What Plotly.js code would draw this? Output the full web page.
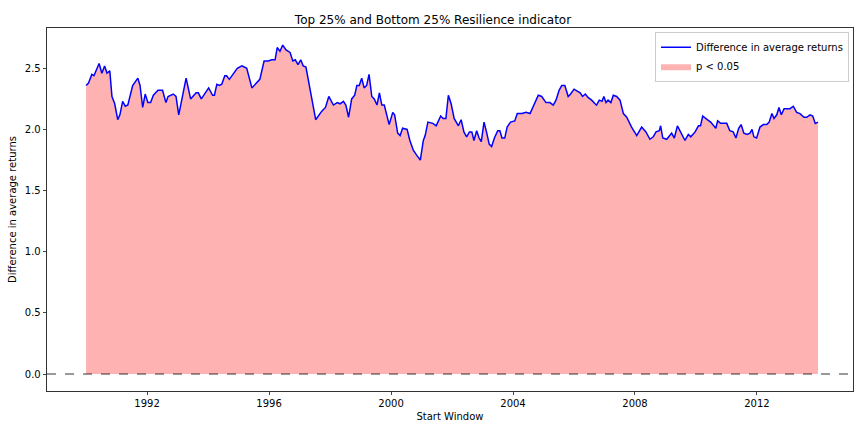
<!DOCTYPE html>
<html>
<head>
<meta charset="utf-8">
<script src="https://cdn.plot.ly/plotly-3.0.1.min.js"></script>
<style>html,body{margin:0;padding:0;background:#fff}#chart{width:866px;height:433px}</style>
</head>
<body>
<div id="chart"></div>
<script>
// start window as decimal year
const years = [1990.0,1990.08,1990.19,1990.26,1990.43,1990.52,1990.61,1990.69,1990.78,1990.85,1990.94,1991.04,1991.11,1991.20,1991.29,1991.37,1991.53,1991.70,1991.77,1991.86,1991.94,1992.03,1992.12,1992.21,1992.36,1992.51,1992.62,1992.69,1992.86,1992.95,1993.04,1993.28,1993.43,1993.61,1993.68,1993.78,1994.02,1994.15,1994.21,1994.29,1994.37,1994.45,1994.55,1994.61,1994.70,1994.96,1995.11,1995.27,1995.44,1995.70,1995.84,1995.98,1996.09,1996.20,1996.27,1996.36,1996.45,1996.56,1996.69,1996.78,1996.86,1996.95,1997.04,1997.12,1997.21,1997.34,1997.53,1997.73,1997.85,1997.96,1998.11,1998.24,1998.33,1998.44,1998.52,1998.61,1998.71,1998.81,1998.88,1998.96,1999.04,1999.12,1999.20,1999.28,1999.37,1999.45,1999.54,1999.62,1999.70,1999.78,1999.94,2000.06,2000.12,2000.22,2000.30,2000.38,2000.53,2000.62,2000.73,2000.84,2000.96,2001.06,2001.12,2001.21,2001.37,2001.48,2001.63,2001.71,2001.80,2001.88,2001.97,2002.07,2002.21,2002.30,2002.39,2002.48,2002.57,2002.65,2002.72,2002.81,2002.89,2002.96,2003.05,2003.14,2003.22,2003.30,2003.39,2003.50,2003.57,2003.64,2003.73,2003.81,2003.92,2004.06,2004.14,2004.29,2004.43,2004.56,2004.69,2004.83,2004.94,2005.08,2005.21,2005.32,2005.41,2005.51,2005.60,2005.70,2005.81,2005.89,2006.00,2006.11,2006.20,2006.28,2006.37,2006.47,2006.58,2006.69,2006.74,2006.83,2006.92,2006.98,2007.05,2007.12,2007.21,2007.29,2007.40,2007.51,2007.62,2007.73,2007.89,2008.06,2008.22,2008.36,2008.49,2008.60,2008.69,2008.80,2008.84,2008.91,2009.04,2009.20,2009.29,2009.39,2009.51,2009.64,2009.75,2009.83,2009.97,2010.08,2010.15,2010.22,2010.37,2010.48,2010.65,2010.71,2010.81,2011.01,2011.11,2011.22,2011.31,2011.40,2011.48,2011.57,2011.68,2011.77,2011.84,2011.90,2011.99,2012.10,2012.21,2012.32,2012.40,2012.49,2012.56,2012.65,2012.72,2012.80,2012.89,2012.99,2013.08,2013.19,2013.30,2013.41,2013.54,2013.63,2013.74,2013.83,2013.91,2014.0];
const diffReturns = [2.36,2.38,2.45,2.44,2.54,2.46,2.52,2.46,2.48,2.27,2.21,2.08,2.12,2.23,2.19,2.20,2.36,2.42,2.36,2.18,2.29,2.22,2.22,2.28,2.32,2.32,2.22,2.27,2.29,2.27,2.12,2.42,2.25,2.30,2.30,2.25,2.34,2.28,2.28,2.37,2.36,2.37,2.44,2.44,2.41,2.50,2.52,2.50,2.34,2.41,2.56,2.56,2.57,2.57,2.67,2.64,2.69,2.65,2.63,2.56,2.57,2.53,2.57,2.52,2.51,2.33,2.08,2.15,2.18,2.27,2.20,2.22,2.21,2.23,2.20,2.10,2.25,2.28,2.36,2.36,2.42,2.34,2.36,2.45,2.27,2.25,2.20,2.30,2.20,2.20,2.04,2.14,2.12,1.97,1.95,2.01,2.00,1.91,1.83,1.79,1.75,1.91,1.95,2.06,2.05,2.03,2.11,2.09,2.09,2.28,2.21,2.09,2.03,2.08,1.98,1.94,1.98,1.98,1.91,1.99,1.93,1.90,2.06,1.97,1.88,1.86,1.93,1.99,1.99,1.93,1.93,2.02,2.06,2.07,2.13,2.13,2.14,2.13,2.21,2.28,2.27,2.22,2.22,2.20,2.24,2.32,2.36,2.36,2.27,2.29,2.33,2.31,2.30,2.27,2.29,2.26,2.24,2.21,2.20,2.24,2.23,2.27,2.22,2.24,2.22,2.28,2.27,2.24,2.13,2.10,2.02,1.95,2.02,1.98,1.92,1.94,1.98,1.99,2.03,1.93,1.92,1.97,1.93,2.03,1.97,1.91,1.96,1.94,1.98,2.03,2.03,2.11,2.08,2.06,2.01,2.07,2.05,2.05,1.99,1.98,1.93,2.01,2.04,1.97,1.96,1.97,2.00,1.94,1.93,2.02,2.04,2.04,2.06,2.13,2.09,2.12,2.18,2.12,2.17,2.17,2.17,2.19,2.14,2.13,2.10,2.10,2.12,2.11,2.05,2.06];
const yTicks = [0, 0.5, 1.0, 1.5, 2.0, 2.5];
const yTickText = ["0.0", "0.5", "1.0", "1.5", "2.0", "2.5"];
const xTickYears = [1992, 1996, 2000, 2004, 2008, 2012];

function toDate(y) {
  const yr = Math.floor(y);
  const start = Date.UTC(yr, 0, 1), end = Date.UTC(yr + 1, 0, 1);
  return new Date(start + (y - yr) * (end - start)).toISOString().slice(0, 10);
}
const dates = years.map(toDate);
const rangeX = [toDate(1988.72), toDate(2015.15)];

const traces = [
  {
    x: dates, y: diffReturns, type: "scatter", mode: "lines",
    fill: "tozeroy", fillcolor: "rgba(255,0,0,0.3)", line: { width: 0 },
    name: "p < 0.05", legendrank: 2, hoverinfo: "skip",
  },
  {
    x: dates, y: diffReturns, type: "scatter", mode: "lines",
    line: { color: "#0000ff", width: 1.5 }, name: "Difference in average returns", legendrank: 1,
  },
  {
    x: rangeX, y: [0, 0], type: "scatter", mode: "lines",
    line: { color: "#000", width: 0.8, dash: "dash" }, showlegend: false, hoverinfo: "skip",
  },
];

const layout = {
  width: 866, height: 433,
  margin: { l: 47, r: 13, t: 28, b: 42 },
  paper_bgcolor: "#fff", plot_bgcolor: "#fff",
  font: { family: "DejaVu Sans", size: 10, color: "#000" },
  title: { text: "Top 25% and Bottom 25% Resilience indicator", font: { size: 12 }, x: 0.5, y: 0.965, xanchor: "center" },
  xaxis: {
    type: "date", range: rangeX,
    tickvals: xTickYears.map((y) => toDate(y)), ticktext: xTickYears.map(String),
    ticks: "outside", ticklen: 3.5, showgrid: false, zeroline: false,
    showline: true, mirror: true, linecolor: "#000", linewidth: 0.8,
    title: { text: "Start Window", font: { size: 10 }, standoff: 4 },
  },
  yaxis: {
    range: [-0.139, 2.83], tickvals: yTicks, ticktext: yTickText,
    ticks: "outside", ticklen: 3.5, showgrid: false, zeroline: false,
    showline: true, mirror: true, linecolor: "#000", linewidth: 0.8,
    title: { text: "Difference in average returns", font: { size: 10 }, standoff: 6 },
  },
  showlegend: true,
  legend: {
    x: 0.995, y: 0.99, xanchor: "right", yanchor: "top",
    bgcolor: "rgba(255,255,255,0.8)", bordercolor: "#ccc", borderwidth: 1,
    font: { size: 10 }, traceorder: "normal",
  },
};

Plotly.newPlot("chart", traces, layout, { displayModeBar: false, staticPlot: true });
</script>
</body>
</html>
